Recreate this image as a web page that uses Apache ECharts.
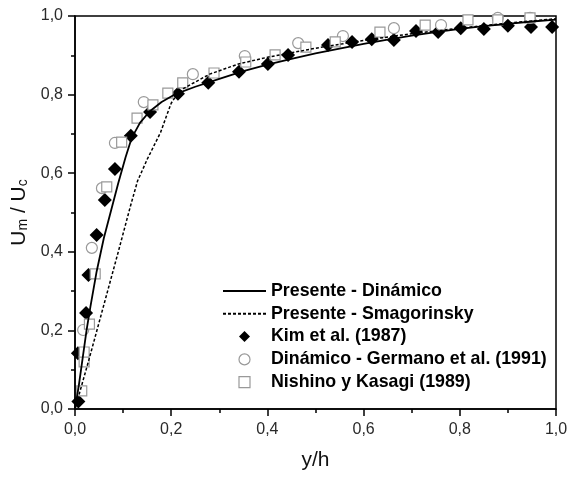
<!DOCTYPE html>
<html>
<head>
<meta charset="utf-8">
<script src="https://cdn.jsdelivr.net/npm/echarts@6/dist/echarts.min.js"></script>
<style>
html,body{margin:0;padding:0;background:#fff;}
#c{width:568px;height:479px;}
</style>
</head>
<body>
<div id="c"></div>
<script>
// ---- data ----
const seriesNames = ['Presente - Dinámico', 'Presente - Smagorinsky', 'Kim et al. (1987)', 'Dinámico - Germano et al. (1991)', 'Nishino y Kasagi (1989)'];
const xTicks = [0, 0.2, 0.4, 0.6, 0.8, 1.0];
const yTicks = [0, 0.2, 0.4, 0.6, 0.8, 1.0];

const dinX = [0, 0.008, 0.016, 0.024, 0.032, 0.045, 0.06, 0.075, 0.09, 0.105, 0.118, 0.135, 0.155, 0.18, 0.21, 0.25, 0.3, 0.35, 0.4, 0.45, 0.5, 0.55, 0.6, 0.65, 0.7, 0.75, 0.8, 0.85, 0.9, 0.95, 1.0];
const dinY = [0, 0.06, 0.13, 0.2, 0.26, 0.35, 0.435, 0.505, 0.575, 0.64, 0.69, 0.728, 0.757, 0.781, 0.802, 0.82, 0.84, 0.86, 0.876, 0.891, 0.905, 0.917, 0.929, 0.94, 0.95, 0.959, 0.967, 0.974, 0.98, 0.986, 0.991];

const smaX = [0, 0.03, 0.06, 0.09, 0.115, 0.13, 0.15, 0.165, 0.178, 0.19, 0.2, 0.21, 0.225, 0.25, 0.28, 0.34, 0.4, 0.5, 0.6, 0.7, 0.8, 0.9, 1.0];
const smaY = [0, 0.13, 0.265, 0.4, 0.515, 0.58, 0.635, 0.672, 0.704, 0.745, 0.778, 0.797, 0.815, 0.832, 0.852, 0.878, 0.895, 0.918, 0.938, 0.955, 0.969, 0.982, 0.993];

const kimX = [0.007, 0.006, 0.023, 0.028, 0.045, 0.062, 0.083, 0.116, 0.156, 0.214, 0.277, 0.341, 0.401, 0.443, 0.526, 0.576, 0.617, 0.663, 0.709, 0.755, 0.802, 0.850, 0.900, 0.948, 0.992];
const kimY = [0.019, 0.142, 0.244, 0.341, 0.443, 0.532, 0.611, 0.695, 0.756, 0.802, 0.830, 0.858, 0.878, 0.901, 0.926, 0.934, 0.941, 0.939, 0.962, 0.959, 0.969, 0.967, 0.975, 0.972, 0.972];

const gerX = [0.017, 0.035, 0.056, 0.083, 0.143, 0.245, 0.353, 0.464, 0.557, 0.663, 0.761, 0.879, 0.946];
const gerY = [0.201, 0.410, 0.562, 0.677, 0.781, 0.852, 0.898, 0.931, 0.949, 0.969, 0.977, 0.995, 0.995];

const nisX = [0.014, 0.019, 0.019, 0.030, 0.042, 0.066, 0.097, 0.129, 0.162, 0.193, 0.224, 0.289, 0.355, 0.416, 0.480, 0.541, 0.634, 0.728, 0.817, 0.879, 0.946];
const nisY = [0.046, 0.120, 0.145, 0.216, 0.344, 0.565, 0.679, 0.740, 0.774, 0.804, 0.830, 0.855, 0.883, 0.901, 0.921, 0.934, 0.959, 0.977, 0.990, 0.990, 0.995];

const zip = (xs, ys) => xs.map((x, i) => [x, ys[i]]);
const FONT = 'Liberation Sans, Arial, sans-serif';
const fmt = v => v.toFixed(1).replace('.', ',');

const chart = echarts.init(document.getElementById('c'), null, {renderer: 'canvas'});
const axisCommon = {
  type: 'value', min: 0, max: 1, interval: 0.2,
  axisLine: {show: true, lineStyle: {color: '#000', width: 1.5}},
  axisTick: {show: true, inside: false, length: 7, lineStyle: {color: '#000', width: 1.5}},
  minorTick: {show: true, splitNumber: 2, length: 4, lineStyle: {color: '#000', width: 1.5}},
  splitLine: {show: false},
  axisLabel: {color: '#2a2a2a', fontFamily: FONT, fontSize: 16, formatter: v => fmt(v)}
};
const hiddenSym = {color: 'rgba(0,0,0,0)', borderWidth: 0, borderColor: 'rgba(0,0,0,0)'};
chart.setOption({
  animation: false,
  backgroundColor: '#fff',
  grid: {left: 75, right: 12, top: 16, bottom: 70, show: true, borderColor: '#000', borderWidth: 1.5,
         containLabel: false, outerBoundsMode: 'none'},
  xAxis: Object.assign({}, axisCommon, {
    name: 'y/h', nameLocation: 'middle', nameGap: 41,
    nameTextStyle: {fontFamily: FONT, fontSize: 21, color: '#111'},
    axisLabel: Object.assign({}, axisCommon.axisLabel, {margin: 13})
  }),
  yAxis: Object.assign({}, axisCommon, {
    name: '{a|U}{s|m}{a| / U}{s|c}', nameLocation: 'middle', nameGap: 40, nameRotate: 90,
    nameTextStyle: {
      fontFamily: FONT, color: '#111',
      rich: {
        a: {fontFamily: FONT, fontSize: 21, color: '#111', verticalAlign: 'top', lineHeight: 21},
        s: {fontFamily: FONT, fontSize: 14, color: '#111', verticalAlign: 'bottom', lineHeight: 14, padding: [11, 0, 0, 0]}
      }
    },
    axisLabel: Object.assign({}, axisCommon.axisLabel, {margin: 12})
  }),
  legend: {
    orient: 'vertical', left: 217, top: 277,
    itemWidth: 43, itemHeight: 11, itemGap: 4.8,
    symbolKeepAspect: true,
    textStyle: {fontFamily: FONT, fontSize: 17.8, fontWeight: 'bold', color: '#000'},
    data: [
      {name: seriesNames[0], itemStyle: hiddenSym},
      {name: seriesNames[1], itemStyle: hiddenSym},
      {name: seriesNames[2], icon: 'path://M0,-1L1,0L0,1L-1,0Z', itemStyle: {color: '#000', opacity: 1}},
      {name: seriesNames[3], icon: 'circle', itemStyle: {color: '#fff', borderColor: '#999', borderWidth: 1.2, opacity: 1}},
      {name: seriesNames[4], icon: 'path://M0,0L1,0L1,1L0,1Z', itemStyle: {color: '#fff', borderColor: '#999', borderWidth: 1.2, opacity: 1}}
    ]
  },
  series: [
    {name: seriesNames[0], type: 'line', data: zip(dinX, dinY), symbol: 'none', showSymbol: false, smooth: false,
     lineStyle: {color: '#000', width: 1.8, type: 'solid'}, itemStyle: {color: '#000'}},
    {name: seriesNames[1], type: 'line', data: zip(smaX, smaY), symbol: 'none', showSymbol: false, smooth: false,
     lineStyle: {color: '#000', width: 1.5, type: [3, 2]}, itemStyle: {color: '#000'}},
    {name: seriesNames[2], type: 'scatter', data: zip(kimX, kimY), symbol: 'diamond', symbolSize: 14,
     itemStyle: {color: '#000', opacity: 1}},
    {name: seriesNames[3], type: 'scatter', data: zip(gerX, gerY), symbol: 'circle', symbolSize: 11,
     itemStyle: {color: '#fff', borderColor: '#999', borderWidth: 1.2, opacity: 1}},
    {name: seriesNames[4], type: 'scatter', data: zip(nisX, nisY), symbol: 'rect', symbolSize: 10,
     itemStyle: {color: '#fff', borderColor: '#999', borderWidth: 1.2, opacity: 1}}
  ]
});
</script>
</body>
</html>
